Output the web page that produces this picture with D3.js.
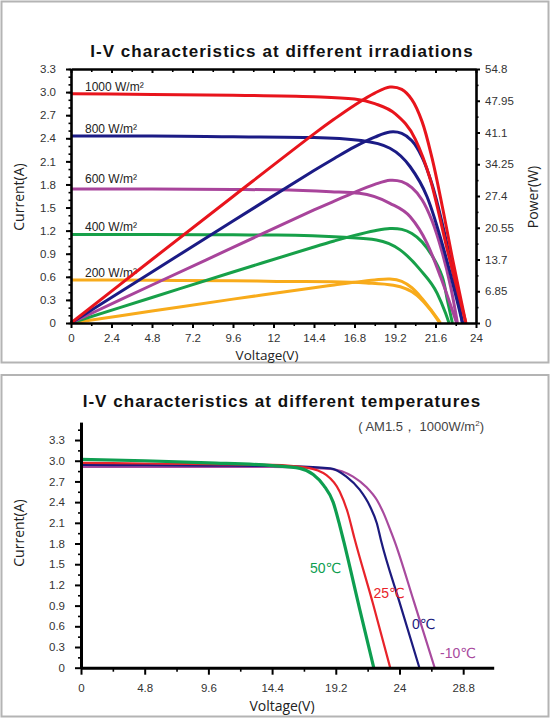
<!DOCTYPE html>
<html>
<head>
<meta charset="utf-8">
<script src="https://cdn.jsdelivr.net/npm/d3@7"></script>
<style>
  body { margin: 0; background: #fff; }
  svg { display: block; }
</style>
</head>
<body>
<div id="chart"></div>
<script>
// ---------- data: top chart (irradiation) ----------
const irrLabels = ["1000 W/m²", "800 W/m²", "600 W/m²", "400 W/m²", "200 W/m²"];
const irrColors = ["#e8141c", "#1b1b85", "#a8449b", "#17a049", "#f8ab1b"];

// [voltage, current]
const iv1000 = [[0,2.98],[4.8,2.97],[9.6,2.96],[14.4,2.94],[16.8,2.91],[18,2.85],[19.2,2.72],[20.4,2.39],[21.3,1.86],[22.3,0.95],[23.4,0]];
const iv800  = [[0,2.43],[4.8,2.43],[9.6,2.42],[14.4,2.41],[17.2,2.37],[18.9,2.27],[20.1,2.03],[21.1,1.64],[22.05,0.99],[23.2,0]];
const iv600  = [[0,1.74],[4.8,1.74],[9.6,1.735],[12.2,1.73],[15.4,1.706],[17.1,1.685],[18.9,1.555],[20.1,1.38],[21.1,1.035],[21.9,0.6],[22.85,0]];
const iv400  = [[0,1.15],[4.8,1.15],[9.6,1.145],[12.2,1.143],[16.2,1.113],[18.1,1.078],[19.5,0.95],[20.7,0.69],[21.7,0.386],[22.2,0.126],[22.4,0]];
const iv200  = [[0,0.56],[4.8,0.555],[9.6,0.55],[12.2,0.54],[15.5,0.535],[17.5,0.52],[19.1,0.49],[20.5,0.36],[21.3,0.17],[21.85,0]];

// [voltage, power]
const pv1000 = [[0,0],[4.8,13.7],[9.6,27.3],[14.4,40.8],[15.6,44.0],[16.8,47.0],[18,49.6],[18.9,50.9],[19.6,50.4],[20.2,48.2],[20.8,43.5],[21.4,35.5],[22,25.2],[22.6,14.0],[23.4,0]];
const pv800  = [[0,0],[4.8,11.0],[9.6,22.0],[14.4,32.9],[15.6,35.5],[16.8,38.0],[18,40.1],[18.9,41.2],[19.6,40.9],[20.2,39.3],[20.8,35.8],[21.4,29.9],[22,21.5],[22.6,11.5],[23.2,0]];
const pv600  = [[0,0],[4.8,8.2],[9.6,16.3],[14.4,24.4],[15.6,26.3],[16.8,28.2],[18,29.9],[18.9,30.8],[19.6,30.5],[20.2,29.2],[20.8,26.6],[21.4,22.0],[22,15.2],[22.5,7.8],[22.9,0]];
const pv400  = [[0,0],[4.8,5.5],[9.6,11.0],[14.4,16.4],[15.6,17.7],[16.8,18.9],[18,19.9],[18.9,20.4],[19.6,20.2],[20.2,19.3],[20.8,17.5],[21.4,14.5],[22,10.0],[22.3,5.0],[22.6,0]];
const pv200  = [[0,0],[4.8,2.58],[9.6,5.15],[14.4,7.6],[15.6,8.2],[16.8,8.8],[18,9.3],[18.9,9.5],[19.6,9.0],[20.2,7.6],[20.8,5.3],[21.4,2.5],[21.9,0]];

const ivCurves = [iv1000, iv800, iv600, iv400, iv200];
const pvCurves = [pv1000, pv800, pv600, pv400, pv200];

const voltTicks1 = [0, 2.4, 4.8, 7.2, 9.6, 12, 14.4, 16.8, 19.2, 21.6, 24];
const currTicks = [0, 0.3, 0.6, 0.9, 1.2, 1.5, 1.8, 2.1, 2.4, 2.7, 3.0, 3.3];
const powerTicks = [0, 6.85, 13.7, 20.55, 27.4, 34.25, 41.1, 47.95, 54.8];

// ---------- data: bottom chart (temperature) ----------
const tempLabels = ["50℃", "25℃", "0℃", "-10℃"];
const tempColors = ["#0e9e50", "#e8232a", "#1c1a7e", "#a84a9e"];
const iv50  = [[0,3.02],[4.8,3.0],[9.6,2.97],[14.4,2.93],[16.5,2.89],[17.5,2.80],[18.3,2.64],[19.0,2.40],[19.5,2.06],[19.8,1.83],[21.0,0.85],[22.06,0]];
const iv25  = [[0,2.97],[4.8,2.96],[9.6,2.95],[14.4,2.94],[17.0,2.90],[18.5,2.79],[19.5,2.55],[20.1,2.25],[20.6,1.88],[22.0,0.93],[23.3,0]];
const iv0   = [[0,2.94],[4.8,2.935],[9.6,2.93],[14.4,2.925],[18.8,2.89],[20.0,2.77],[21.0,2.58],[21.8,2.33],[22.3,2.09],[22.6,1.85],[24.0,0.95],[25.5,0]];
const ivM10 = [[0,2.91],[4.8,2.91],[9.6,2.91],[14.4,2.91],[18.8,2.88],[20.5,2.77],[21.5,2.62],[22.3,2.43],[22.8,2.24],[23.3,2.0],[23.6,1.85],[25.1,0.95],[26.65,0]];
const tempCurves = [iv50, iv25, iv0, ivM10];

const voltTicks2 = [0, 4.8, 9.6, 14.4, 19.2, 24, 28.8];

// ---------- layout ----------
const W = 554, H = 720;
const fontTick = "'Liberation Sans', Arial, sans-serif";
const fontTitle = "'Open Sans', sans-serif";
const fmt = d => String(+d.toFixed(2));

const svg = d3.select("#chart").append("svg")
  .attr("width", W)
  .attr("height", H);

// panel borders
svg.append("rect")
  .attr("x", 1.5).attr("y", 1.5).attr("width", 547).attr("height", 361)
  .attr("fill", "none").attr("stroke", "#b4b4b4").attr("stroke-width", 2);
svg.append("rect")
  .attr("x", 1.5).attr("y", 375).attr("width", 547).attr("height", 341.5)
  .attr("fill", "none").attr("stroke", "#b4b4b4").attr("stroke-width", 2);

function styleAxis(g, domainWidth) {
  g.select(".domain").attr("stroke", "#000").attr("stroke-width", domainWidth);
  g.selectAll(".tick line").attr("stroke", "#000").attr("stroke-width", 2);
  g.selectAll(".tick text")
    .attr("fill", "#333")
    .style("font-family", fontTick)
    .style("font-size", "11.5px");
}

function minorAxis(g, axis) {
  g.call(axis.tickFormat("").tickSizeOuter(0));
  g.select(".domain").remove();
  g.selectAll(".tick line").attr("stroke", "#000").attr("stroke-width", 1.6);
}

// ================= top chart =================
const x1 = d3.scaleLinear().domain([0, 24]).range([71, 476]);
const y1 = d3.scaleLinear().domain([0, 3.3]).range([323, 69]);
const p1 = d3.scaleLinear().domain([0, 54.8]).range([323, 69]);

svg.append("text")
  .attr("x", 282).attr("y", 57)
  .attr("text-anchor", "middle")
  .attr("font-family", fontTick)
  .attr("font-weight", "bold")
  .attr("font-size", 17)
  .attr("letter-spacing", 1.05)
  .attr("fill", "#111")
  .text("I-V characteristics at different irradiations");

// curve labels (under the lines)
irrLabels.forEach((lab, i) => {
  svg.append("text")
    .attr("x", 85)
    .attr("y", y1(ivCurves[i][0][1]) - (i === 2 ? 6 : 3))
    .attr("font-family", fontTick)
    .attr("font-size", 12)
    .attr("fill", "#222")
    .text(lab);
});

const lineIV1 = d3.line().x(d => x1(d[0])).y(d => y1(d[1])).curve(d3.curveMonotoneX);
const linePV1 = d3.line().x(d => x1(d[0])).y(d => p1(d[1])).curve(d3.curveCatmullRom.alpha(0.5));

for (let i = ivCurves.length - 1; i >= 0; i--) {
  svg.append("path")
    .attr("d", linePV1(pvCurves[i]))
    .attr("fill", "none")
    .attr("stroke", irrColors[i])
    .attr("stroke-width", 3);
  svg.append("path")
    .attr("d", lineIV1(ivCurves[i]))
    .attr("fill", "none")
    .attr("stroke", irrColors[i])
    .attr("stroke-width", 3);
}

// minor ticks
const voltMinor1 = d3.range(1.2, 24, 2.4);
const currMinor = d3.range(0, 3.31, 0.1);
const powerMinor = d3.range(3.425, 54.8, 6.85);

svg.append("g").attr("transform", "translate(0,323)")
  .call(g => minorAxis(g, d3.axisBottom(x1).tickValues(voltMinor1).tickSize(3)));
svg.append("g").attr("transform", "translate(0,69)")
  .call(g => minorAxis(g, d3.axisTop(x1).tickValues(voltMinor1).tickSize(-3)));
svg.append("g").attr("transform", "translate(71,0)")
  .call(g => minorAxis(g, d3.axisLeft(y1).tickValues(currMinor).tickSize(2.5)));
svg.append("g").attr("transform", "translate(476,0)")
  .call(g => minorAxis(g, d3.axisRight(p1).tickValues(powerMinor).tickSize(2.5)));

// main axes
svg.append("g").attr("transform", "translate(0,69)")
  .call(d3.axisTop(x1).tickValues(voltTicks1).tickSize(-4).tickSizeOuter(0).tickFormat(""))
  .call(g => styleAxis(g, 2.6));
svg.append("g").attr("transform", "translate(0,323)")
  .call(d3.axisBottom(x1).tickValues(voltTicks1).tickSize(5).tickSizeOuter(0).tickPadding(6).tickFormat(fmt))
  .call(g => styleAxis(g, 2.6));
svg.append("g").attr("transform", "translate(71,0)")
  .call(d3.axisLeft(y1).tickValues(currTicks).tickSize(5).tickSizeOuter(0).tickPadding(10)
    .tickFormat(d => d === 0 ? "0" : d.toFixed(1)))
  .call(g => styleAxis(g, 2.6));
svg.append("g").attr("transform", "translate(476,0)")
  .call(d3.axisRight(p1).tickValues(powerTicks).tickSize(4).tickSizeOuter(0).tickPadding(5).tickFormat(fmt))
  .call(g => styleAxis(g, 2.6));

// axis titles
svg.append("text")
  .attr("transform", "translate(24,197) rotate(-90)")
  .attr("text-anchor", "middle")
  .attr("font-family", fontTitle).attr("font-size", 14).attr("fill", "#222")
  .text("Current(A)");
svg.append("text")
  .attr("transform", "translate(538,197) rotate(-90)")
  .attr("text-anchor", "middle")
  .attr("font-family", fontTitle).attr("font-size", 14).attr("fill", "#222")
  .text("Power(W)");
svg.append("text")
  .attr("x", 267).attr("y", 360)
  .attr("text-anchor", "middle")
  .attr("font-family", fontTitle).attr("font-size", 13.5).attr("fill", "#222")
  .text("Voltage(V)");

// ================= bottom chart =================
const x2 = d3.scaleLinear().domain([0, 31.1]).range([81, 493.7]);
const y2 = d3.scaleLinear().domain([0, 3.56]).range([667.7, 422.1]);

svg.append("text")
  .attr("x", 282).attr("y", 407)
  .attr("text-anchor", "middle")
  .attr("font-family", fontTick)
  .attr("font-weight", "bold")
  .attr("font-size", 17)
  .attr("letter-spacing", 1.05)
  .attr("fill", "#111")
  .text("I-V characteristics at different temperatures");

const sub = svg.append("text")
  .attr("x", 484).attr("y", 431)
  .attr("text-anchor", "end")
  .attr("font-family", fontTick)
  .attr("font-size", 13)
  .attr("fill", "#444");
sub.append("tspan").text("( AM1.5，  1000W/m");
sub.append("tspan").attr("dy", -5).attr("font-size", 8).text("2");
sub.append("tspan").attr("dy", 5).text(")");

const lineIV2 = d3.line().x(d => x2(d[0])).y(d => y2(d[1])).curve(d3.curveMonotoneX);

for (let i = tempCurves.length - 1; i >= 0; i--) {
  svg.append("path")
    .attr("d", lineIV2(tempCurves[i]))
    .attr("fill", "none")
    .attr("stroke", tempColors[i])
    .attr("stroke-width", i === 0 ? 3.2 : 2.2);
}

const tempLabelPos = [[310, 573], [373.5, 598], [412, 628.5], [440, 658]];
tempLabels.forEach((lab, i) => {
  svg.append("text")
    .attr("x", tempLabelPos[i][0]).attr("y", tempLabelPos[i][1])
    .attr("font-family", "'Liberation Sans', 'DejaVu Sans', sans-serif")
    .attr("font-size", 14)
    .attr("fill", tempColors[i])
    .text(lab);
});

const voltMinor2 = d3.range(2.4, 28.8, 4.8);
const currMinor2 = d3.range(0.15, 3.5, 0.3);

svg.append("g").attr("transform", "translate(0,667.7)")
  .call(g => minorAxis(g, d3.axisBottom(x2).tickValues(voltMinor2).tickSize(4)));
svg.append("g").attr("transform", "translate(81,0)")
  .call(g => minorAxis(g, d3.axisLeft(y2).tickValues(currMinor2).tickSize(3)));

svg.append("g").attr("transform", "translate(0,667.7)")
  .call(d3.axisBottom(x2).tickValues(voltTicks2).tickSize(7).tickSizeOuter(0).tickPadding(9).tickFormat(fmt))
  .call(g => styleAxis(g, 3));
svg.append("g").attr("transform", "translate(81,0)")
  .call(d3.axisLeft(y2).tickValues(currTicks).tickSize(6).tickSizeOuter(0).tickPadding(10)
    .tickFormat(d => d === 0 ? "0" : d.toFixed(1)))
  .call(g => styleAxis(g, 3));

svg.append("text")
  .attr("transform", "translate(24,533) rotate(-90)")
  .attr("text-anchor", "middle")
  .attr("font-family", fontTitle).attr("font-size", 14).attr("fill", "#222")
  .text("Current(A)");
svg.append("text")
  .attr("x", 282).attr("y", 711)
  .attr("text-anchor", "middle")
  .attr("font-family", fontTitle).attr("font-size", 14).attr("fill", "#222")
  .text("Voltage(V)");
</script>
</body>
</html>
